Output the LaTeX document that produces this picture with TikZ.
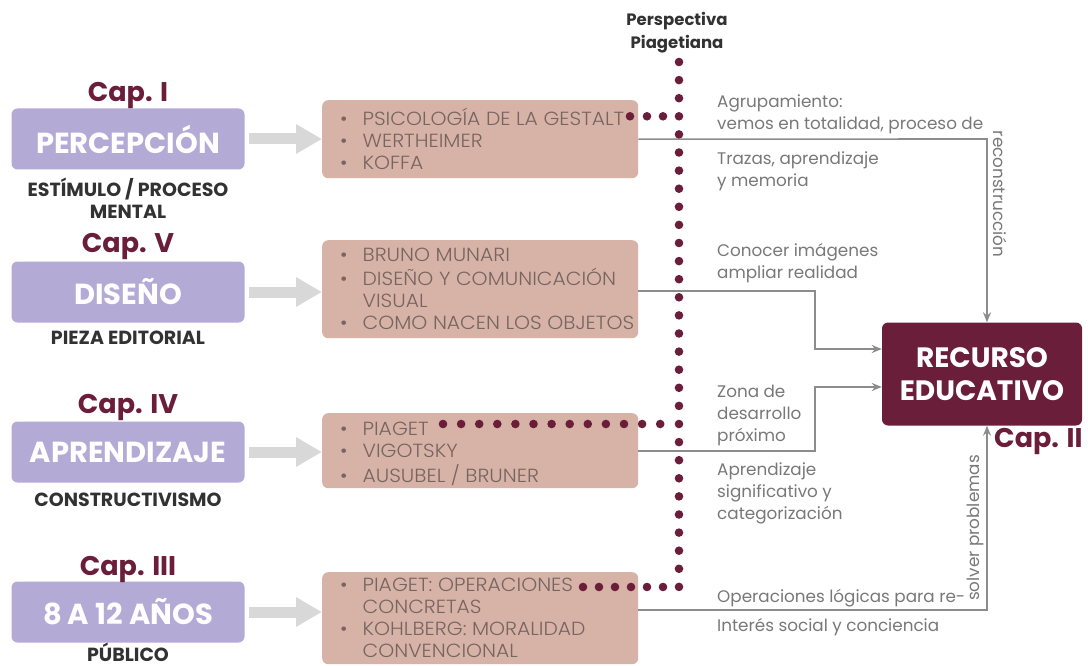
\documentclass[tikz,border=0pt]{standalone}
\usepackage{fontspec}
\setmainfont{Poppins}
\newfontfamily\wfont[FakeStretch=1.07, UprightFont=*-Light]{Poppins}
\usetikzlibrary{arrows.meta,calc}
\definecolor{lav}{RGB}{180,170,214}
\definecolor{tan}{RGB}{214,179,166}
\definecolor{maroon}{RGB}{106,30,58}
\definecolor{arrgrey}{RGB}{216,216,216}
\definecolor{conngrey}{RGB}{140,140,140}
\definecolor{labgrey}{RGB}{120,120,120}
\definecolor{boxtext}{RGB}{120,100,97}
\definecolor{dark}{RGB}{50,50,50}
\tikzset{
  pbox/.style={fill=lav, rounded corners=6pt, minimum width=233pt, minimum height=61pt, text=white, font=\bfseries\fontsize{29}{32}\selectfont, inner sep=0pt},
  captext/.style={text=maroon, font=\bfseries\fontsize{27}{30}\selectfont, inner sep=0pt},
  subtext/.style={text=dark, font=\bfseries\fontsize{19}{22}\selectfont, align=center, inner sep=0pt},
  bbox/.style={fill=tan, rounded corners=6pt, anchor=north west, inner sep=0pt},
  btext/.style={text=boxtext, font=\wfont\fontsize{19}{22}\selectfont, anchor=north west, inner sep=0pt, align=left},
  fatarrow/.style={draw=arrgrey, line width=11pt, -{Triangle[length=26pt,width=28pt]}},
  conn/.style={draw=conngrey, line width=1.6pt, -{Stealth[length=10pt,width=8pt]}},
  labtext/.style={text=labgrey, font=\fontsize{16.8}{22}\selectfont, anchor=west, inner sep=0pt, align=left},
  mdot/.style={fill=maroon},
}
\newcommand{\blist}[1]{\begin{tabular}{@{}l@{\hspace{15pt}}l@{}}#1\end{tabular}}
\begin{document}
\begin{tikzpicture}[x=1pt,y=-1pt]
\useasboundingbox (0,0) rectangle (1088,666);
% purple boxes
\node[pbox] (p1) at (128,139) {PERCEPCIÓN};
\node[pbox] (p2) at (128,292) {DISEÑO};
\node[pbox] (p3) at (128,452) {APRENDIZAJE};
\node[pbox] (p4) at (128,612) {8 A 12 AÑOS};
\node[captext] (c1) at (128,96) {Cap. I};
\node[captext] (c5) at (128,247) {Cap. V};
\node[captext] (c4) at (128,408) {Cap. IV};
\node[captext] (c3) at (128,570) {Cap. III};
\node[subtext] (s1) at (128,198) {ESTÍMULO / PROCESO\\MENTAL};
\node[subtext] (s2) at (128,338) {PIEZA EDITORIAL};
\node[subtext] (s3) at (128,500) {CONSTRUCTIVISMO};
\node[subtext] (s4) at (128,652) {PÚBLICO};
% brown boxes
\node[bbox, minimum width=316pt, minimum height=78pt] (b1) at (322,100) {};
\node[bbox, minimum width=316pt, minimum height=98pt] (b2) at (322,240) {};
\node[bbox, minimum width=316pt, minimum height=75pt] (b3) at (322,413) {};
\node[bbox, minimum width=316pt, minimum height=92pt] (b4) at (322,572) {};
\node[btext] (t1) at (340,107.5) {\blist{• & PSICOLOGÍA DE LA GESTALT\\ • & WERTHEIMER\\ • & KOFFA}};
\node[btext] (t2) at (340,246) {\blist{• & BRUNO MUNARI\\ • & DISEÑO Y COMUNICACIÓN\\ & VISUAL\\ • & COMO NACEN LOS OBJETOS}};
\node[btext] (t3) at (340,420) {\blist{• & PIAGET\\ • & VIGOTSKY\\ • & AUSUBEL / BRUNER}};
\node[btext] (t4) at (340,576) {\blist{• & PIAGET: OPERACIONES\\ & CONCRETAS\\ • & KOHLBERG: MORALIDAD\\ & CONVENCIONAL}};
% fat arrows
\draw[fatarrow] (p1.east) ++(4,0) -- (b1.west |- p1.east);
\draw[fatarrow] (p2.east) ++(4,0) -- (b2.west |- p2.east);
\draw[fatarrow] (p3.east) ++(4,0) -- (b3.west |- p3.east);
\draw[fatarrow] (p4.east) ++(4,0) -- (b4.west |- p4.east);
% recurso
\node[fill=maroon, rounded corners=6pt, minimum width=200pt, minimum height=103pt, text=white, font=\bfseries\fontsize{28}{33}\selectfont, align=center, inner sep=0pt] (r) at (982,374) {RECURSO\\EDUCATIVO};
\node[captext, anchor=west] (c2) at (994,442) {Cap. II};
% Perspectiva label
\node[text=dark, font=\bfseries\fontsize{16.5}{23}\selectfont, align=center, inner sep=0pt] (pp) at (677,33) {Perspectiva\\Piagetiana};
% connectors
\coordinate (k1) at (987,139);
\draw[conn] (b1.east) -- (k1) -- (k1 |- r.north);
\coordinate (k2a) at (815,291);
\coordinate (k2b) at (815,349);
\draw[conn] (b2.east |- k2a) -- (k2a) -- (k2b) -- (r.west |- k2b);
\coordinate (k3a) at (815,451);
\coordinate (k3b) at (815,387);
\draw[conn] (b3.east |- k3a) -- (k3a) -- (k3b) -- (r.west |- k3b);
\coordinate (k4) at (987,610);
\draw[conn] (b4.east |- k4) -- (k4) -- (k4 |- r.south);
% dots
\foreach \i in {0,...,29} \fill[mdot] (679,62+18.1*\i) circle (4.3pt);
\foreach \x in {630,647,663} \fill[mdot] (\x,116.3) circle (4.3pt);
\foreach \i in {0,...,12} \fill[mdot] (443+18.1*\i,424) circle (4.3pt);
\foreach \x in {583,599,615,631,647,663} \fill[mdot] (\x,587) circle (4.3pt);
% labels
\node[labtext] (l1) at (717,114) {Agrupamiento:\\vemos en totalidad, proceso de};
\node[labtext] (l2) at (717,171) {Trazas, aprendizaje\\y memoria};
\node[labtext, anchor=center, rotate=-90] (l3) at (1000,194) {reconstrucción};
\node[labtext] (l4) at (717,263) {Conocer imágenes\\ampliar realidad};
\node[labtext] (l5) at (717,415) {Zona de\\desarrollo\\próximo};
\node[labtext] (l6) at (717,493) {Aprendizaje\\significativo y\\categorización};
\node[labtext] (l7) at (717,598) {Operaciones lógicas para re-};
\node[labtext] (l8) at (717,627) {Interés social y conciencia};
\node[labtext, anchor=center, rotate=90] (l9) at (975,528) {solver problemas};
\end{tikzpicture}
\end{document}
